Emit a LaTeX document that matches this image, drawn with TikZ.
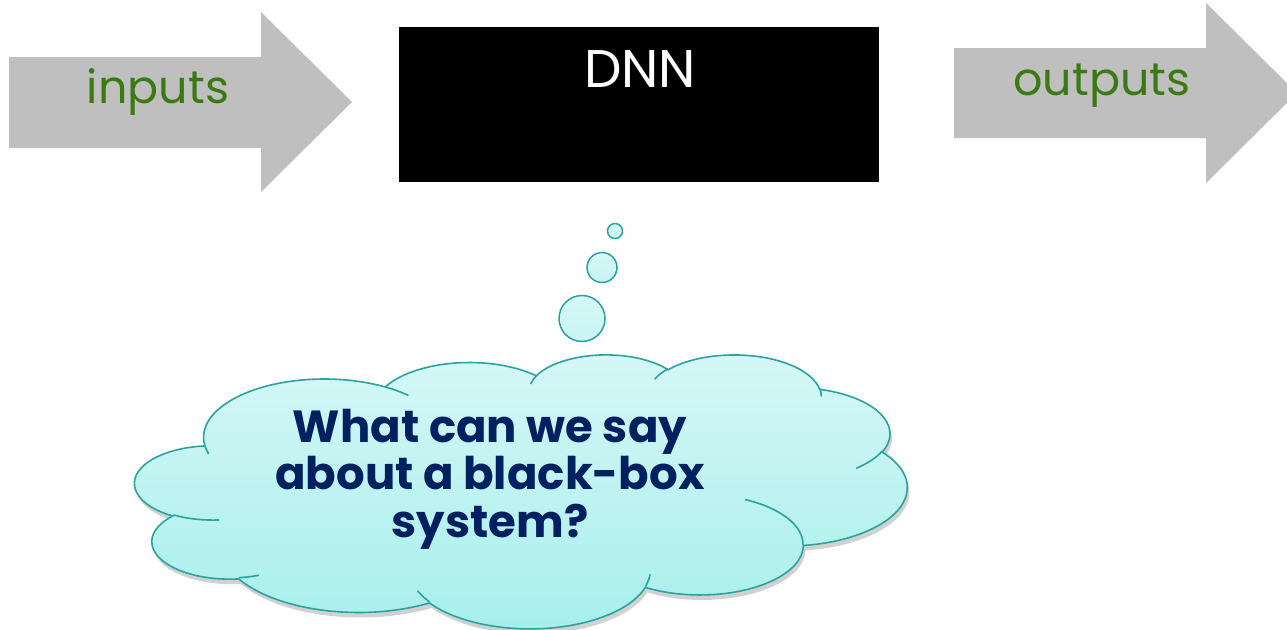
\documentclass[tikz,border=0pt]{standalone}
\usepackage{fontspec}
\setmainfont{Poppins}
\definecolor{arrowgray}{HTML}{BFBFBF}
\definecolor{labgreen}{HTML}{3B7A12}
\definecolor{navy}{HTML}{002060}
\definecolor{cloudline}{HTML}{2AA39E}
\definecolor{cloudtop}{HTML}{D6F7F7}
\definecolor{cloudbot}{HTML}{A6EFEB}
% OOXML-style arcTo: visual angles -> parametric angles
\newcommand\ckarc[4]{%
  \pgfmathparse{atan2((#1)*sin(#3),(#2)*cos(#3))}\xdef\ckA{\pgfmathresult}%
  \pgfmathparse{atan2((#1)*sin((#3)+(#4)),(#2)*cos((#3)+(#4)))}\xdef\ckB{\pgfmathresult}%
  \pgfmathparse{\ckA+Mod(\ckB-\ckA,360)}\xdef\ckB{\pgfmathresult}%
}
\tikzset{
  bigarrow/.style={fill=arrowgray, draw=none},
  lab/.style={text=labgreen, font=\fontsize{46}{50}\selectfont, inner sep=0pt, anchor=base},
  bubble/.style={circle, draw=cloudline, line width=1.5pt, top color=cloudtop, bottom color=cloudtop!70!cloudbot, inner sep=0pt},
  cloudline/.style={draw=cloudline, line width=1.6pt},
}
\begin{document}
\begin{tikzpicture}[x=1pt,y=-1pt]
\useasboundingbox (0,0) rectangle (1287,629);
\clip (0,0) rectangle (1287,629);
% input arrow
\fill[bigarrow] (9,57) -- (261,57) -- (261,12) -- (352,102) -- (261,192) -- (261,148) -- (9,148) -- cycle;
\node[lab] (inlab) at (158,103) {inputs};
% output arrow
\fill[bigarrow] (954,48) -- (1206,48) -- (1206,3) -- (1297,93) -- (1206,183) -- (1206,138) -- (954,138) -- cycle;
\node[lab] (outlab) at (1102,95) {outputs};
% DNN box
\node[fill=black, minimum width=480pt, minimum height=155pt, inner sep=0pt] (dnn) at (639,104.5) {};
\node[text=white, font=\fontsize{53}{56}\selectfont, inner sep=0pt, anchor=base] (dnnlab) at (640,87) {DNN};
% thought bubbles
\node[bubble, minimum size=15pt] (b1) at (615,231) {};
\node[bubble, minimum size=30pt] (b2) at (602,267.5) {};
\node[bubble, minimum size=46pt] (b3) at (582,318.5) {};
% cloud
\begin{scope}[shift={(135,354)}, x=1pt, y=1pt, xscale=1.787, yscale=-0.634]
\draw[cloudline, top color=cloudtop, bottom color=cloudbot,
  preaction={fill=black, opacity=0.18, transform canvas={shift={(2pt,-5pt)}}}]
  (39.00,143.70)
  \pgfextra{\ckarc{67.53}{91.90}{-190.48748}{123.78053}} arc[start angle=\ckA,end angle=\ckB,x radius=67.53,y radius=91.90]
  \pgfextra{\ckarc{53.33}{72.67}{-144.10238}{89.94523}} arc[start angle=\ckA,end angle=\ckB,x radius=53.33,y radius=72.67]
  \pgfextra{\ckarc{43.65}{59.45}{-145.80792}{99.72302}} arc[start angle=\ckA,end angle=\ckB,x radius=43.65,y radius=59.45]
  \pgfextra{\ckarc{48.57}{65.95}{-130.98607}{117.24173}} arc[start angle=\ckA,end angle=\ckB,x radius=48.57,y radius=65.95]
  \pgfextra{\ckarc{53.33}{72.73}{-78.70888}{109.02692}} arc[start angle=\ckA,end angle=\ckB,x radius=53.33,y radius=72.73]
  \pgfextra{\ckarc{67.75}{92.20}{-46.26725}{130.26900}} arc[start angle=\ckA,end angle=\ckB,x radius=67.75,y radius=92.20]
  \pgfextra{\ckarc{57.85}{78.67}{0.62502}{114.03333}} arc[start angle=\ckA,end angle=\ckB,x radius=57.85,y radius=78.67]
  \pgfextra{\ckarc{67.52}{92.15}{22.45160}{115.17255}} arc[start angle=\ckA,end angle=\ckB,x radius=67.52,y radius=92.15]
  \pgfextra{\ckarc{77.20}{105.43}{66.24263}{75.71102}} arc[start angle=\ckA,end angle=\ckB,x radius=77.20,y radius=105.43]
  \pgfextra{\ckarc{43.60}{59.18}{-274.94208}{146.73557}} arc[start angle=\ckA,end angle=\ckB,x radius=43.60,y radius=59.18]
  \pgfextra{\ckarc{43.45}{59.45}{-246.82850}{152.51885}} arc[start angle=\ckA,end angle=\ckB,x radius=43.45,y radius=59.45]
  -- cycle;
\draw[cloudline]
  (46.93,261.77) \pgfextra{\ckarc{43.45}{59.45}{86.742}{26.4295}} arc[start angle=\ckA,end angle=\ckB,x radius=43.45,y radius=59.45]
  (69.28,348.99) \pgfextra{\ckarc{43.60}{59.18}{73.6105}{11.4475}} arc[start angle=\ckA,end angle=\ckB,x radius=43.60,y radius=59.18]
  (164.78,390.90) \pgfextra{\ckarc{67.52}{92.15}{137.6242}{14.0811}} arc[start angle=\ckA,end angle=\ckB,x radius=67.52,y radius=92.15]
  (288.27,347.51) \pgfextra{\ckarc{67.52}{92.15}{6.4533}{15.9984}} arc[start angle=\ckA,end angle=\ckB,x radius=67.52,y radius=92.15]
  (341.29,229.54) \pgfextra{\ckarc{57.85}{78.67}{-70.2924}{70.9174}} arc[start angle=\ckA,end angle=\ckB,x radius=57.85,y radius=78.67]
  (417.98,153.54) \pgfextra{\ckarc{53.33}{72.73}{30.318}{27.7515}} arc[start angle=\ckA,end angle=\ckB,x radius=53.33,y radius=72.73]
  (383.24,54.26) \pgfextra{\ckarc{48.57}{65.95}{-13.7443}{14.8589}} arc[start angle=\ckA,end angle=\ckB,x radius=48.57,y radius=65.95]
  (290.78,39.52) \pgfextra{\ckarc{48.57}{65.95}{-149.1815}{18.1954}} arc[start angle=\ckA,end angle=\ckB,x radius=48.57,y radius=65.95]
  (221.41,47.20) \pgfextra{\ckarc{43.65}{59.45}{-163.4943}{17.6864}} arc[start angle=\ckA,end angle=\ckB,x radius=43.65,y radius=59.45]
  (140.00,51.92) \pgfextra{\ckarc{67.53}{91.90}{-66.707}{12.3194}} arc[start angle=\ckA,end angle=\ckB,x radius=67.53,y radius=91.90]
  (41.27,157.89) \pgfextra{\ckarc{67.53}{91.90}{157.6544}{11.8582}} arc[start angle=\ckA,end angle=\ckB,x radius=67.53,y radius=91.90];
\end{scope}
\node[text=navy, font=\fontsize{45}{47.5}\selectfont\bfseries, align=center, inner sep=0pt] (q) at (490,479)
  {What can we say\\about a black-box\\system?};
\end{tikzpicture}
\end{document}
